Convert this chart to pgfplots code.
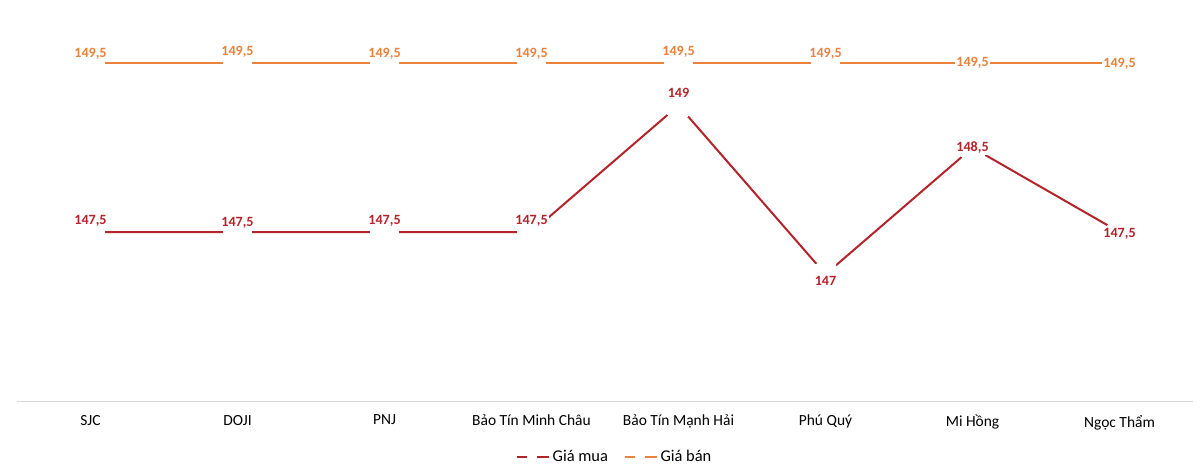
\documentclass[border=0pt]{standalone}
\usepackage{pgfplots}
\pgfplotsset{compat=1.18}
\usepackage{pgfplotstable}
\usepackage{fontspec}
\setmainfont{Carlito}
\usetikzlibrary{calc}
\definecolor{muared}{HTML}{B5232A}
\definecolor{banorange}{HTML}{E8823C}
\definecolor{axisgray}{HTML}{D9D9D9}

\pgfplotstableread{
x y dy
0 147.5 8.25
1 147.5 6.75
2 147.5 8.25
3 147.5 8.25
4 149.0 9.75
5 147.0 -5.25
6 148.5 0
7 147.5 -1.5
}\muatable
\pgfplotstableread{
x y dy
0 149.5 6.75
1 149.5 8.25
2 149.5 6.75
3 149.5 6.75
4 149.5 8.25
5 149.5 6.75
6 149.5 0
7 149.5 -0.75
}\bantable

\begin{document}
\begin{tikzpicture}
\begin{axis}[
  scale only axis,
  width=882pt, height=285pt,
  xmin=-0.5, xmax=7.5,
  ymin=145.5, ymax=150,
  axis y line=none,
  axis x line*=bottom,
  x axis line style={draw=axisgray, line width=0.75pt},
  xtick={0,...,7},
  xticklabels={SJC, DOJI, PNJ, Bảo Tín Minh Châu, Bảo Tín Mạnh Hải, Phú Quý, Mi Hồng, Ngọc Thẩm},
  xtick style={draw=none},
  xticklabel style={font=\fontsize{11.6}{13}\selectfont, text=black, yshift=-7pt},
  /pgf/number format/use comma,
  /pgf/number format/assume math mode=true,
  nodes near coords,
  visualization depends on={\thisrow{dy} \as \dy},
  every node near coord/.append style={anchor=center, yshift=\dy pt, fill=white, inner sep=1pt, font=\fontsize{10.6}{12}\bfseries},
  legend style={at={(0.5,0)}, anchor=center, yshift=-42pt, xshift=7.5pt, draw=none, legend columns=2, font=\fontsize{12.3}{14}\selectfont, /tikz/every even column/.append style={column sep=10pt}},
  legend image code/.code={\draw[#1,mark=none] (0pt,0pt) -- (7.5pt,0pt); \draw[#1,mark=none] (15pt,0pt) -- (24pt,0pt);},
]
\addplot[color=muared, line width=1.5pt, mark=*, mark size=10.5pt, mark options={fill=white, draw=white, line width=0pt}, every node near coord/.append style={text=muared}] table[x=x, y=y] {\muatable};
\addlegendentry{Giá mua}
\addplot[color=banorange, line width=1.5pt, mark=*, mark size=10.5pt, mark options={fill=white, draw=white, line width=0pt}, every node near coord/.append style={text=banorange}] table[x=x, y=y] {\bantable};
\addlegendentry{Giá bán}
\coordinate (ll) at (rel axis cs:0,0);
\coordinate (ur) at (rel axis cs:1,1);
\end{axis}
\pgfresetboundingbox
\path[use as bounding box] ($(ll)+(-12.75pt,-52.5pt)$) rectangle ($(ur)+(5.25pt,15.75pt)$);
\end{tikzpicture}
\end{document}
